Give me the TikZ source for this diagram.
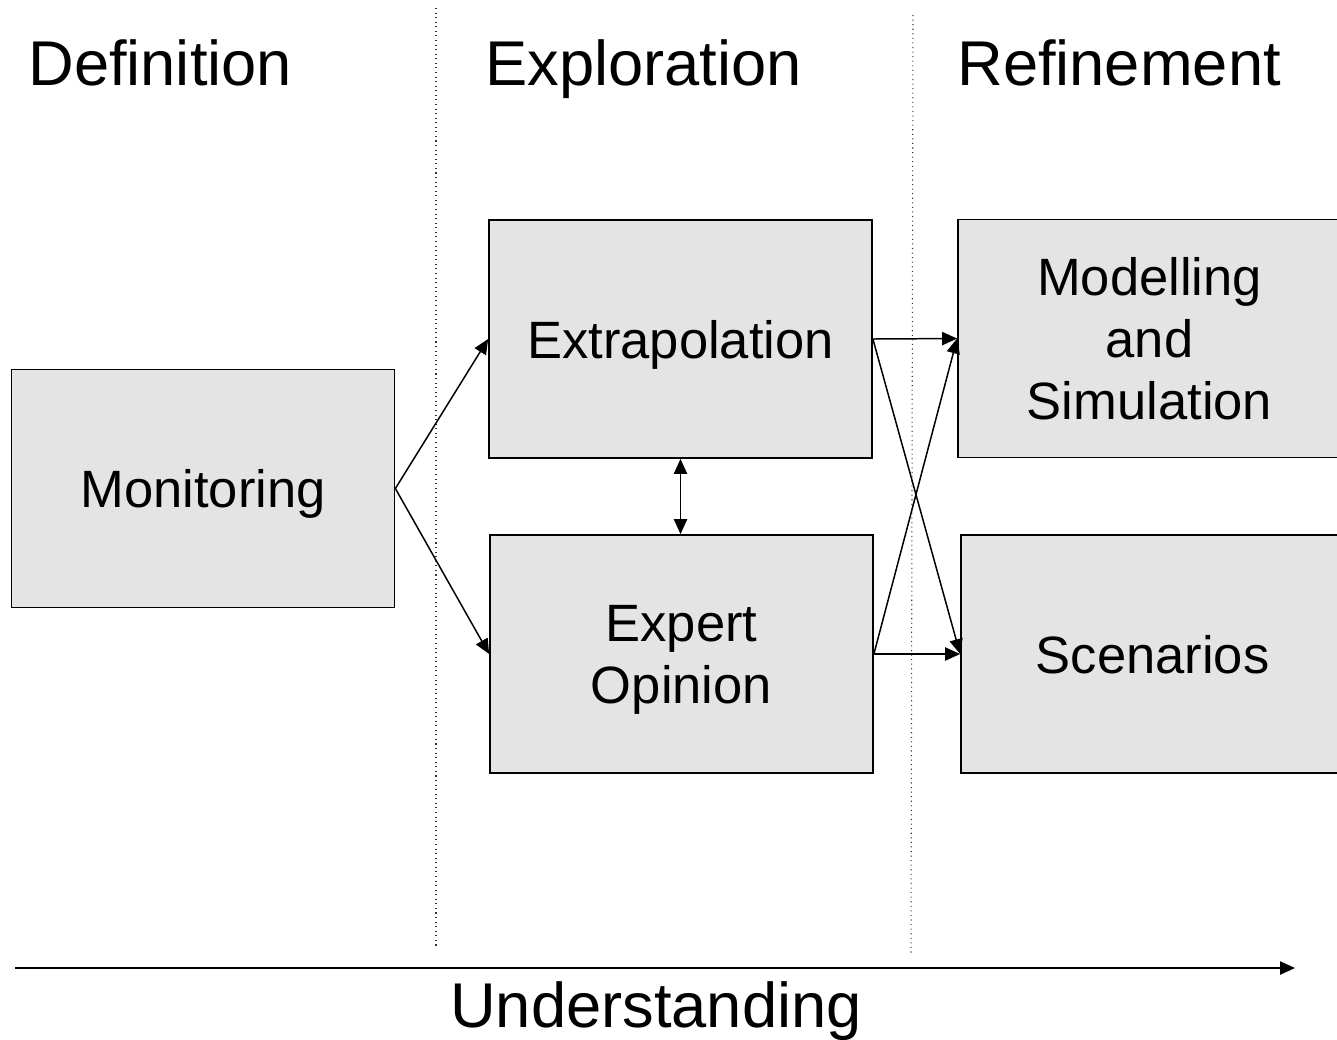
\documentclass[tikz,border=0pt]{standalone}
\usepackage{fontspec}
\setmainfont{Liberation Sans}
\usetikzlibrary{arrows.meta, positioning}
\definecolor{boxgray}{RGB}{228,228,228}

\begin{document}
\begin{tikzpicture}[x=0.02cm, y=-0.02cm,
  >={Triangle[length=8.5pt,width=7.5pt]},
  box/.style={
    rectangle, draw=black, fill=boxgray, line width=1pt,
    minimum width=383*0.02cm, minimum height=238*0.02cm,
    inner sep=0pt, text width=7cm, align=center,
    font=\fontsize{29.9}{35.2}\selectfont, text depth=0pt
  },
  phase/.style={anchor=base west, inner sep=0pt, font=\fontsize{36}{40}\selectfont},
  arr/.style={->, line width=0.85pt},
  sep/.style={dotted, line width=0.6pt, draw=black!80}
]
  \useasboundingbox (0,0) rectangle (1337,1039);

  % phase headings
  \node[phase] (def) at (28,85) {Definition};
  \node[phase] (exp) at (485,85) {Exploration};
  \node[phase] (ref) at (957,85) {Refinement};

  % separators
  \draw[sep] (436,8) -- (436,946);
  \draw[sep] (913,15) -- (911,955);

  % boxes
  \node[box] (mon) at (203,488.5) {Monitoring};
  \node[box] (xtr) at (680.5,339) {Extrapolation};
  \node[box, text depth=35.2pt] (eop) at (681.5,654) {Expert\\Opinion};
  \node[box, text depth=70.4pt] (mas) at (1149.5,338.5) {Modelling\\and\\Simulation};
  \node[box] (scn) at (1152.5,654) {Scenarios};

  \draw[arr] (mon.east) -- (xtr.west);
  \draw[arr] (mon.east) -- (eop.west);
  \draw[arr, <->] (xtr.south) -- (xtr.south |- eop.north);
  \draw[arr] (xtr.east) -- (mas.west);
  \draw[arr] (xtr.east) -- (scn.west);
  \draw[arr] (eop.east) -- (mas.west);
  \draw[arr] (eop.east) -- (scn.west);

  % understanding axis
  \coordinate (ax0) at (15,968);
  \coordinate (ax1) at (1295,968);
  \draw[arr] (ax0) -- (ax1);
  \node[anchor=base, inner sep=0pt, font=\fontsize{36}{40}\selectfont] (und) at (656,1027) {Understanding};
\end{tikzpicture}
\end{document}
